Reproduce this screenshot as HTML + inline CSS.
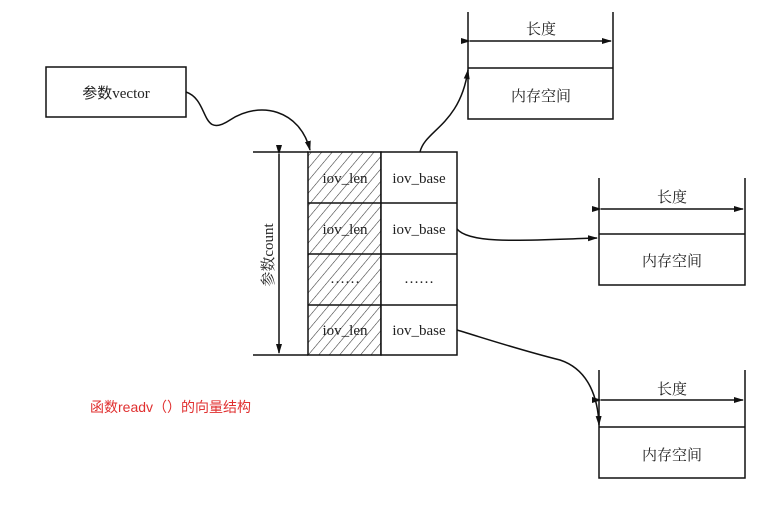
<!DOCTYPE html>
<html><head><meta charset="utf-8"><style>
body{margin:0;background:#fff;width:768px;height:503px;overflow:hidden}
svg text{font-family:"Liberation Serif","Noto Serif CJK SC",serif;fill:#222}
</style></head><body>
<svg width="768" height="503" viewBox="0 0 768 503">
<defs>
<pattern id="h" width="8" height="8" patternUnits="userSpaceOnUse" patternTransform="rotate(40)">
<line x1="0" y1="0" x2="0" y2="8" stroke="#333" stroke-width="1.1"/></pattern>
<marker id="a" markerWidth="10" markerHeight="8" refX="9" refY="4" orient="auto" markerUnits="userSpaceOnUse">
<path d="M0,1 L10,4 L0,7 Z" fill="#111"/></marker>
</defs>
<g stroke="#111" stroke-width="1.5" fill="none">
<rect x="46" y="67" width="140" height="50"/>
<rect x="308" y="152" width="73" height="203" fill="url(#h)"/>
<rect x="381" y="152" width="76" height="203" fill="#fff"/>
<line x1="308" y1="203" x2="457" y2="203"/>
<line x1="308" y1="254" x2="457" y2="254"/>
<line x1="308" y1="305" x2="457" y2="305"/>
<line x1="253" y1="152" x2="308" y2="152"/>
<line x1="253" y1="355" x2="308" y2="355"/>
<line x1="279" y1="154" x2="279" y2="353" marker-start="url(#a)" marker-end="url(#a)"/>
<path d="M468,12 V119 H613 V12 M468,68 H613"/>
<line x1="470" y1="41" x2="611" y2="41" marker-start="url(#a)" marker-end="url(#a)"/>
<path d="M599,178 V285 H745 V178 M599,234 H745"/>
<line x1="601" y1="209" x2="743" y2="209" marker-start="url(#a)" marker-end="url(#a)"/>
<path d="M599,370 V478 H745 V370 M599,427 H745"/>
<line x1="601" y1="400" x2="743" y2="400" marker-start="url(#a)" marker-end="url(#a)"/>
<path d="M186,92 C210,100 200,140 230,120 C260,100 300,110 310,150" marker-end="url(#a)"/>
<path d="M420,152 C425,130 460,125 468,70" marker-end="url(#a)"/>
<path d="M457,229 C470,245 530,240 597,238" marker-end="url(#a)"/>
<path d="M457,330 C490,340 520,350 560,360 C590,370 598,400 599,425" marker-end="url(#a)"/>
</g>
<g font-size="15" text-anchor="middle">
<text x="116" y="98" font-family="Liberation Sans,Noto Sans CJK SC,sans-serif" style="font-family:'Liberation Serif','Noto Sans CJK SC',serif">参数vector</text>
<text x="345" y="183">iov_len</text><text x="419" y="183">iov_base</text>
<text x="345" y="234">iov_len</text><text x="419" y="234">iov_base</text>
<text x="345" y="283">……</text><text x="419" y="283">……</text>
<text x="345" y="335">iov_len</text><text x="419" y="335">iov_base</text>
<text transform="translate(273,255) rotate(-90)">参数count</text>
<text x="541" y="34">长度</text><text x="541" y="101">内存空间</text>
<text x="672" y="202">长度</text><text x="672" y="266">内存空间</text>
<text x="672" y="394">长度</text><text x="672" y="460">内存空间</text>
</g>
<text x="90" y="412" font-size="14" style="fill:#e03030;font-family:'Liberation Sans','Noto Sans CJK SC',sans-serif">函数readv（）的向量结构</text>
</svg>
</body></html>
